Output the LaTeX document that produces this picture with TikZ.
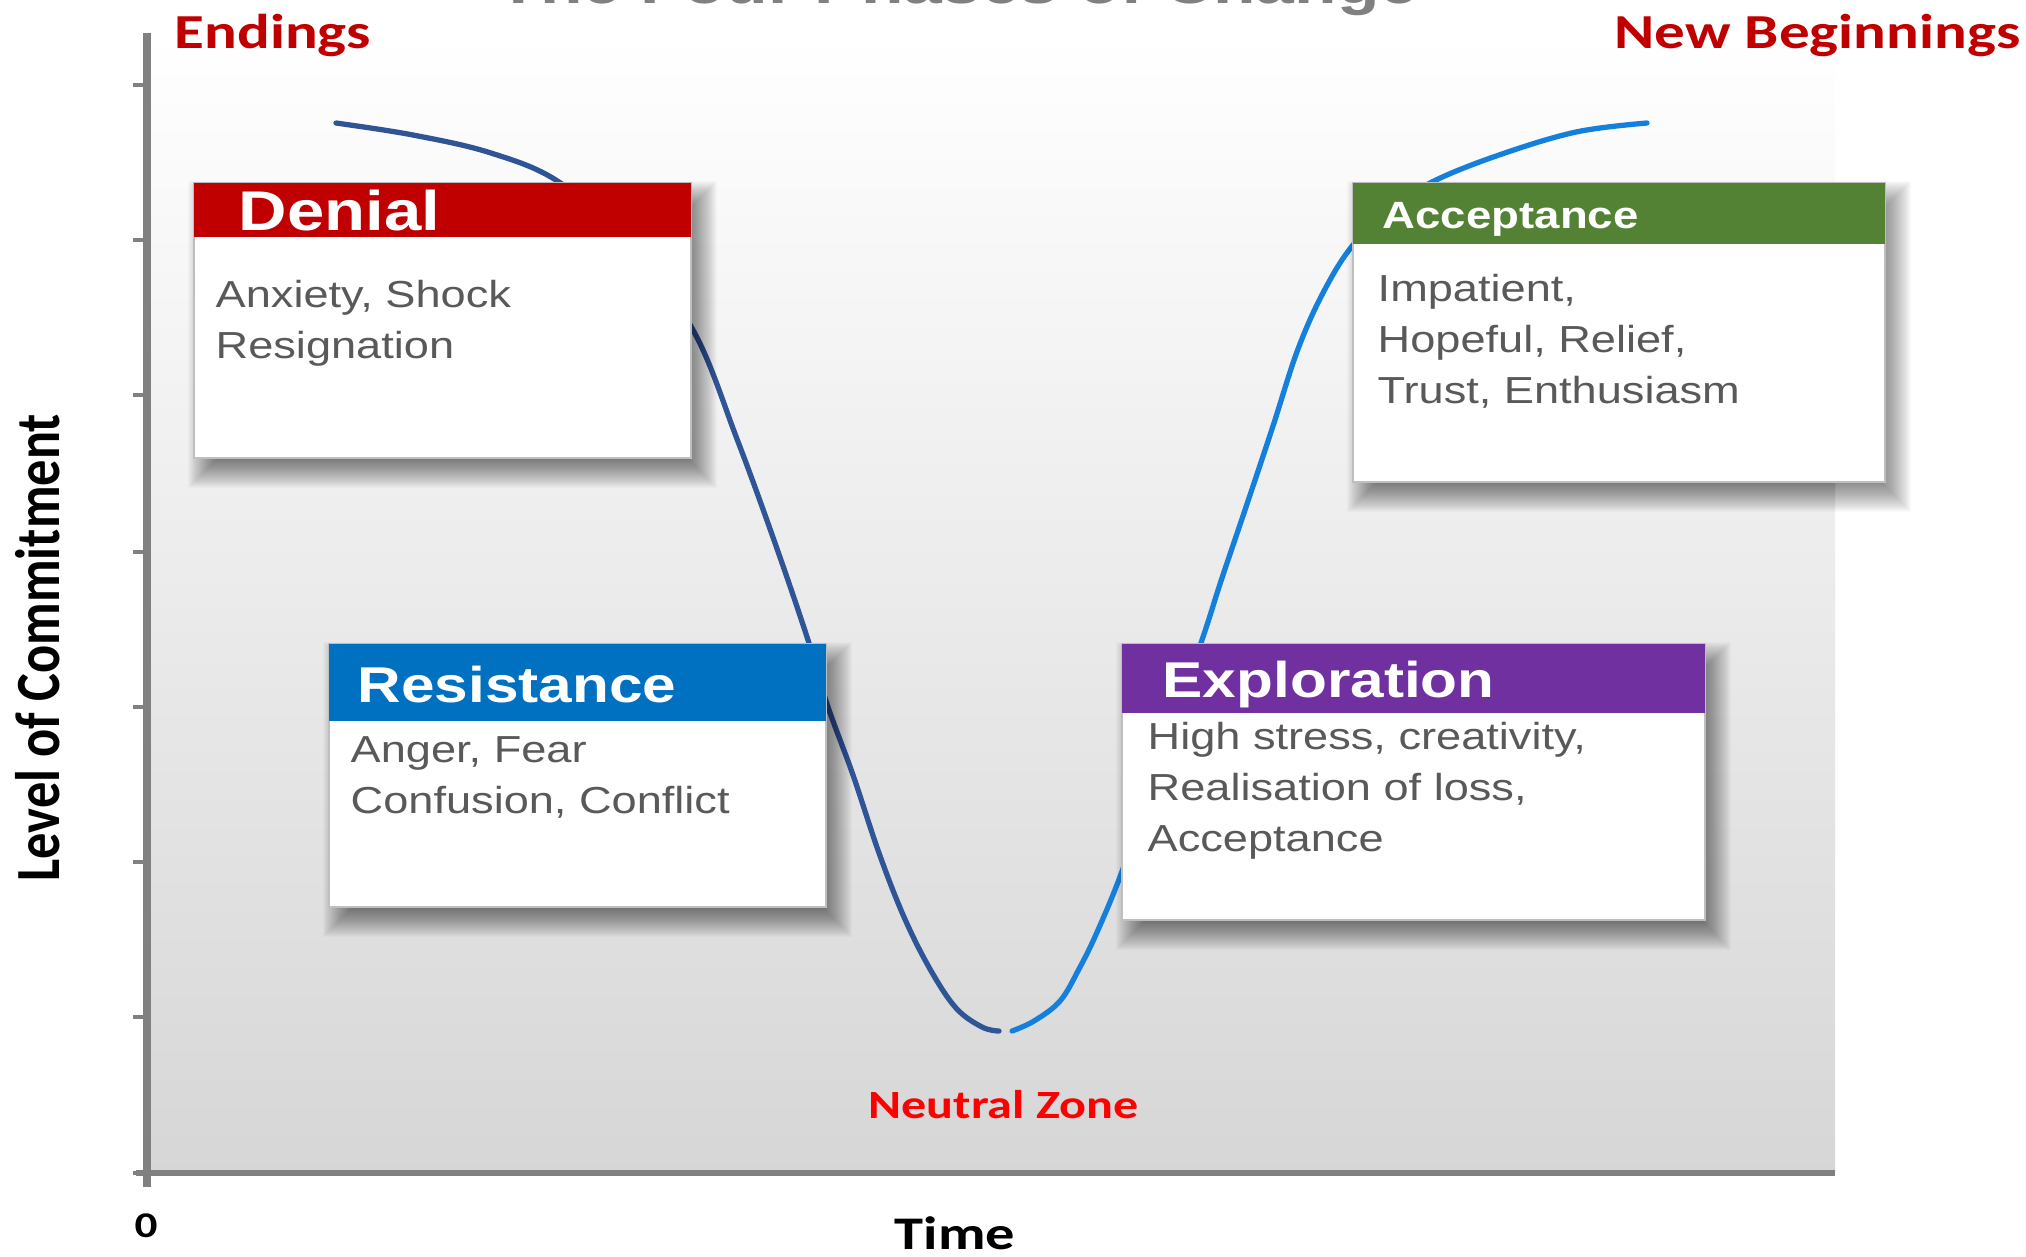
\documentclass[tikz,border=0pt]{standalone}
\usepackage{fontspec}
\setmainfont{Liberation Sans}[FakeStretch=1.2]
\newfontfamily\calibri{Carlito}[FakeStretch=1.25]
\newfontfamily\calibriplain{Carlito}
\usetikzlibrary{positioning}

\definecolor{denialred}{HTML}{C00000}
\definecolor{resistblue}{HTML}{0070C0}
\definecolor{explorepurple}{HTML}{7030A0}
\definecolor{acceptgreen}{HTML}{548235}
\definecolor{axisgray}{HTML}{808080}
\definecolor{bodygray}{HTML}{595959}
\definecolor{curvedark}{HTML}{2F5597}
\definecolor{curvelight}{HTML}{1480DC}

% card: left, top, right, bottom, header bottom, header colour
\newcommand{\phasecard}[6]{%
  \foreach \k in {-10,...,18}
    \fill[black,opacity=.018] (#1+12-\k,#2+16-\k) rectangle (#3+8+\k,#4+12+\k);
  \fill[white] (#1,#2) rectangle (#3,#4);
  \draw[cardline] (#1,#2) rectangle (#3,#4);
  \fill[#6] (#1,#2) rectangle (#3,#5);
}

\begin{document}
\begin{tikzpicture}[x=0.01cm, y=-0.01cm,
  axisline/.style={draw=axisgray, line width=#1},
  ticklet/.style={draw=axisgray, line width=1.4pt},
  cardline/.style={draw=black!25, line width=.4pt},
  phasecurve/.style={line width=1.5pt, line cap=round},
  cardhead/.style={text=white, inner sep=0pt, anchor=base west},
  cardtext/.style={text=bodygray, inner sep=0pt, anchor=base west, align=left,
    font=\fontsize{10.7}{14.5}\selectfont},
  zonelabel/.style={inner sep=0pt, anchor=base west, font=\calibri\bfseries\fontsize{13.9}{16}\selectfont}]
\useasboundingbox (0,0) rectangle (2026,1256);

% title, cut by the top edge
\begin{scope}
  \clip (0,0) rectangle (2026,1256);
  \node[anchor=base west, inner sep=0pt, text=black!50,
    font=\bfseries\fontsize{16.5}{18}\selectfont] (title) at (497,3) {The Four Phases of Change};
\end{scope}

% plot area
\shade[top color=white, bottom color=black!16] (150,33) rectangle (1835,1172);
\draw[axisline=2.2pt] (147,33) -- (147,1187);
\draw[axisline=1.6pt] (136,1173) -- (1835,1173);
\foreach \ty in {85,240,395,552,707,862,1017,1173}
  \draw[ticklet] (133,\ty) -- (147,\ty);

% the change curve
\draw[phasecurve, curvedark] plot[smooth, tension=.6] coordinates {(336,123) (413,135) (491,153)
  (559,182) (628,243) (693,330) (737,439) (775,543) (808,640) (827,704) (853,775) (879,853)
  (904,917) (930,969) (956,1008) (982,1027) (999,1031)};
\draw[phasecurve, curvelight] plot[smooth, tension=.6] coordinates {(1012,1031) (1034,1021)
  (1060,1001) (1079,969) (1098,930) (1124,866) (1163,752) (1202,640) (1221,581) (1247,504)
  (1273,426) (1298,349) (1324,291) (1353,245) (1392,208) (1434,181) (1499,155) (1576,132)
  (1647,123)};

% cards
\phasecard{194}{183}{691}{458}{237}{denialred}
\phasecard{329}{644}{826}{907}{721}{resistblue}
\phasecard{1122}{644}{1705}{920}{713}{explorepurple}
\phasecard{1353}{183}{1885}{482}{244}{acceptgreen}

% body nodes sit on the baseline of their last line
\node[cardhead, font=\bfseries\fontsize{15.9}{18}\selectfont] (denial) at (238,230) {Denial};
\node[cardtext] (denialtext) at (215,358) {Anxiety, Shock\\Resignation};
\node[cardhead, font=\bfseries\fontsize{14.3}{17}\selectfont] (resistance) at (357,702) {Resistance};
\node[cardtext] (resistancetext) at (350,813) {Anger, Fear\\Confusion, Conflict};
\node[cardhead, font=\bfseries\fontsize{14.3}{17}\selectfont] (exploration) at (1162,697) {Exploration};
\node[cardtext] (explorationtext) at (1147,851) {High stress, creativity,\\Realisation of loss,\\Acceptance};
\node[cardhead, font=\bfseries\fontsize{10.8}{13}\selectfont] (acceptance) at (1382,228) {Acceptance};
\node[cardtext] (acceptancetext) at (1377,403) {Impatient,\\Hopeful, Relief,\\Trust, Enthusiasm};

% zone labels and axis labels
\node[zonelabel, text=denialred] (endings) at (174,48) {Endings};
\node[zonelabel, text=denialred] (newbeginnings) at (1614,48) {New Beginnings};
\node[zonelabel, text=red, font=\calibri\bfseries\fontsize{11.4}{14}\selectfont] (neutral) at (868,1118) {Neutral Zone};
\node[zonelabel, font=\calibri\bfseries\fontsize{13.3}{16}\selectfont] (time) at (894,1249) {Time};
\node[inner sep=0pt, anchor=base, font=\calibri\bfseries\fontsize{10.3}{12}\selectfont] (origin) at (146,1237) {0};
\node[inner sep=0pt, anchor=base west, rotate=90, font=\calibriplain\bfseries\fontsize{14.9}{17}\selectfont]
  (commitment) at (60,882) {\scalebox{1}[1.2]{Level of Commitment}};
\end{tikzpicture}
\end{document}
